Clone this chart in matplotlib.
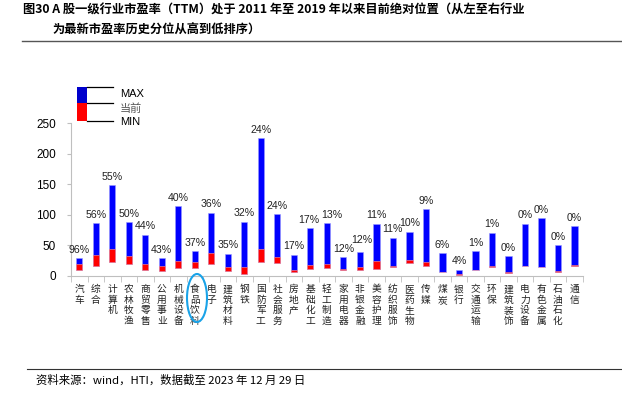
import matplotlib.pyplot as plt
from matplotlib.patches import Rectangle, Ellipse
from matplotlib.lines import Line2D
import numpy as np

plt.rcParams['font.family'] = ['Liberation Sans', 'Noto Sans CJK SC', 'DejaVu Sans']

# industries sorted by latest PE percentile
industries = ['汽车', '综合', '计算机', '农林牧渔', '商贸零售', '公用事业', '机械设备', '食品饮料',
              '电子', '建筑材料', '钢铁', '国防军工', '社会服务', '房地产', '基础化工', '轻工制造',
              '家用电器', '非银金融', '美容护理', '纺织服饰', '医药生物', '传媒', '煤炭', '银行',
              '交通运输', '环保', '建筑装饰', '电力设备', '有色金属', '石油石化', '通信']
pe_max = [29.5, 86.8, 149.0, 87.9, 67.7, 28.9, 114.6, 40.9, 103.7, 36.6, 89.0, 225.5, 101.5,
          34.9, 78.1, 86.2, 30.6, 39.3, 85.2, 62.8, 72.6, 109.2, 37.7, 10.4, 40.4, 71.0,
          32.2, 85.7, 94.4, 50.2, 81.9]
pe_now = [20.2, 34.4, 44.2, 32.8, 19.1, 16.9, 24.0, 23.5, 37.1, 14.7, 14.2, 44.8, 31.7,
          9.3, 18.0, 20.2, 11.5, 14.2, 24.6, 16.9, 26.2, 22.4, 7.1, 3.3, 10.4, 15.8,
          5.8, 16.2, 14.5, 7.4, 17.2]
pe_min = [9.3, 15.8, 23.5, 20.2, 10.4, 8.7, 12.6, 13.6, 19.7, 8.2, 3.8, 23.5, 21.8,
          6.6, 12.0, 13.1, 9.3, 9.3, 12.0, 14.2, 20.7, 15.8, 6.0, 2.2, 9.3, 14.7,
          5.5, 15.8, 14.2, 7.1, 16.9]
pct = [96, 56, 55, 50, 44, 43, 40, 37, 36, 35, 32, 24, 24, 17, 17, 13, 12, 12, 11, 11,
       10, 9, 6, 4, 1, 1, 0, 0, 0, 0, 0]

W, H = 622, 399


def fp(x, y):
    return (x / W, 1 - y / H)


fig = plt.figure(figsize=(W / 100, H / 100), dpi=100)
ax = fig.add_axes([71 / W, 1 - 276 / H, 511.7 / W, (276 - 123.3) / H])

x = np.arange(len(industries))
pe_max = np.array(pe_max)
pe_now = np.array(pe_now)
pe_min = np.array(pe_min)

ax.bar(x, pe_max - pe_min, bottom=pe_min, width=0.38, color='#0000FF', edgecolor='#9999FF', linewidth=0.4)
ax.bar(x, pe_now - pe_min, bottom=pe_min, width=0.38, color='#FF0000', edgecolor='#FF9999', linewidth=0.4)

# small label nudges (points) where neighbouring labels crowd each other
nudge = {'轻工制造': (3.5, 2.5), '非银金融': (1.5, 5), '基础化工': (-1, 2.5)}
for i in range(len(x)):
    off = nudge.get(industries[i], (0, 2.5))
    ax.annotate(f'{pct[i]}%', (x[i], pe_max[i]), xytext=off, textcoords='offset points',
                ha='center', va='bottom', fontsize=7.6, color='#222222')

ax.set_xlim(-0.5, len(x) - 0.5)
ax.set_ylim(0, 250)
ax.set_yticks([0, 50, 100, 150, 200, 250])
ax.tick_params(axis='y', labelsize=8.5, length=3, color='#BFBFBF', pad=8)

ax.set_xticks(x)
ax.set_xticklabels(['\n'.join(s) for s in industries], fontsize=7, va='top',
                   linespacing=1.05, family=['Noto Sans CJK SC'], color='#222222')
ax.tick_params(axis='x', which='major', length=0, pad=6)
ax.set_xticks(np.arange(-0.5, len(x), 1), minor=True)
ax.tick_params(axis='x', which='minor', length=4, color='#BFBFBF')

for s in ['top', 'right']:
    ax.spines[s].set_visible(False)
for s in ['left', 'bottom']:
    ax.spines[s].set_color('#BFBFBF')

# custom legend
lx0, lx1 = 77, 87
fig.add_artist(Rectangle(fp(lx0, 103.3), (lx1 - lx0) / W, 16.6 / H, transform=fig.transFigure,
                         facecolor='#0000CC', edgecolor='none'))
fig.add_artist(Rectangle(fp(lx0, 121), (lx1 - lx0) / W, 17.7 / H, transform=fig.transFigure,
                         facecolor='#FF0000', edgecolor='none'))
for yy in [86.7, 103.3, 121]:
    x0, y0 = fp(lx1, yy)
    x1, _ = fp(113, yy)
    fig.add_artist(Line2D([x0, x1], [y0, y0], transform=fig.transFigure, color='black', lw=0.9))
ty = {'MAX': 94, '当前': 109, 'MIN': 122}
for lab, yy in ty.items():
    fig.text(*fp(120, yy), lab, fontsize=8, va='center', ha='left',
             color='#555555' if lab == '当前' else 'black')

# highlight ellipse
fig.add_artist(Ellipse(fp(197, 298), 20 / W, 48 / H, transform=fig.transFigure,
                       fill=False, edgecolor='#1AA3E8', lw=1.5))

# title
fig.text(*fp(23, 10), '图30 A 股一级行业市盈率（TTM）处于 2011 年至 2019 年以来目前绝对位置（从左至右行业',
         fontsize=8.8, fontweight='bold', va='center', ha='left',
         family=['Noto Sans CJK SC'])
fig.text(*fp(52, 30), '为最新市盈率历史分位从高到低排序）',
         fontsize=8.8, fontweight='bold', va='center', ha='left',
         family=['Noto Sans CJK SC'])
fig.add_artist(Line2D([22 / W, 1], [1 - 41 / H] * 2, transform=fig.transFigure, color='#555555', lw=1))

# source
fig.add_artist(Line2D([27 / W, 1], [1 - 369 / H] * 2, transform=fig.transFigure, color='#333333', lw=0.8))
fig.text(*fp(36, 380), '资料来源：wind，HTI，数据截至 2023 年 12 月 29 日', fontsize=8.2,
         va='center', ha='left', family=['Noto Sans CJK SC', 'DejaVu Sans'])

plt.savefig('out.png', dpi=100)
